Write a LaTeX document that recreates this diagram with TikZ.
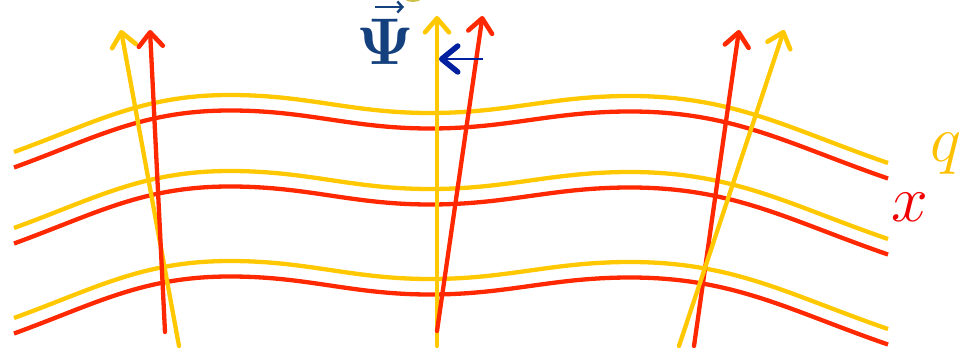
\documentclass[tikz,border=0pt]{standalone}
\usepackage{fix-cm}
\usetikzlibrary{arrows.meta}
\definecolor{yel}{RGB}{255,200,0}
\definecolor{rd}{RGB}{255,40,0}
\definecolor{qcol}{RGB}{255,192,0}
\definecolor{xcol}{RGB}{240,0,0}
\definecolor{psicol}{RGB}{20,65,125}
\definecolor{blu}{RGB}{0,32,160}
\definecolor{olive}{RGB}{205,192,70}
\tikzset{
  wave/.style={line width=4.3pt},
  vecarrow/.style={line width=4.3pt, line cap=round,
    -{Straight Barb[length=14pt,width=24pt,line width=4.6pt,line cap=round,round]}},
  biglabel/.style={inner sep=0pt, font=\fontsize{66}{66}\selectfont},
}
\begin{document}
\begin{tikzpicture}[x=1pt,y=1pt]
\useasboundingbox (0,0) rectangle (961,351);
\begin{scope}
\clip (0,0) rectangle (961,351);
\fill[olive] (413,359) ellipse (13 and 10);
\end{scope}
% waves
\foreach \dy in {0,-76,-166}{
  \draw[wave,yel] (14,199+\dy) to[out=20,in=180] (230,256+\dy) to[out=0,in=180] (430,238+\dy)
     to[out=0,in=180] (630,255+\dy) to[out=0,in=161] (888,188+\dy);
  \draw[wave,rd] (14,183.5+\dy) to[out=20,in=180] (230,240.5+\dy) to[out=0,in=180] (430,222.5+\dy)
     to[out=0,in=180] (630,239.5+\dy) to[out=0,in=161] (888,172.5+\dy);
}
% arrow endpoints
\coordinate (ly0) at (179,5);   \coordinate (ly1) at (121,321);
\coordinate (lr0) at (165,19);  \coordinate (lr1) at (150,321);
\coordinate (my0) at (437,5);   \coordinate (my1) at (437,335);
\coordinate (mr0) at (437,20);  \coordinate (mr1) at (482.5,335);
\coordinate (rr0) at (694,5);   \coordinate (rr1) at (739,321);
\coordinate (ry0) at (679,5);   \coordinate (ry1) at (784,321);
\coordinate (b0) at (483,292);  \coordinate (b1) at (439,292);
\draw[vecarrow,yel] (ly0) -- (ly1);
\draw[vecarrow,rd] (lr0) -- (lr1);
\draw[vecarrow,yel] (my0) -- (my1);
\draw[vecarrow,rd] (mr0) -- (mr1);
\draw[vecarrow,rd] (rr0) -- (rr1);
\draw[vecarrow,yel] (ry0) -- (ry1);
\draw[blu, line width=2pt,
  -{Straight Barb[length=16pt,width=26pt,line width=5.5pt,line cap=round,round]}] (b0) -- (b1);
% labels
\node[biglabel, text=psicol, anchor=base] (psi) at (385,286) {$\mathbf{\Psi}$};
\coordinate (va0) at (375,344);
\coordinate (va1) at (404,344);
\draw[psicol, line width=2.4pt, -{Straight Barb[length=5pt,width=11pt,line width=2.4pt]}] (va0) -- (va1);
\node[biglabel, text=qcol, anchor=base west] (q) at (930,189) {$q$};
\node[biglabel, text=xcol, anchor=base west] (x) at (891,129) {$x$};
\end{tikzpicture}
\end{document}
